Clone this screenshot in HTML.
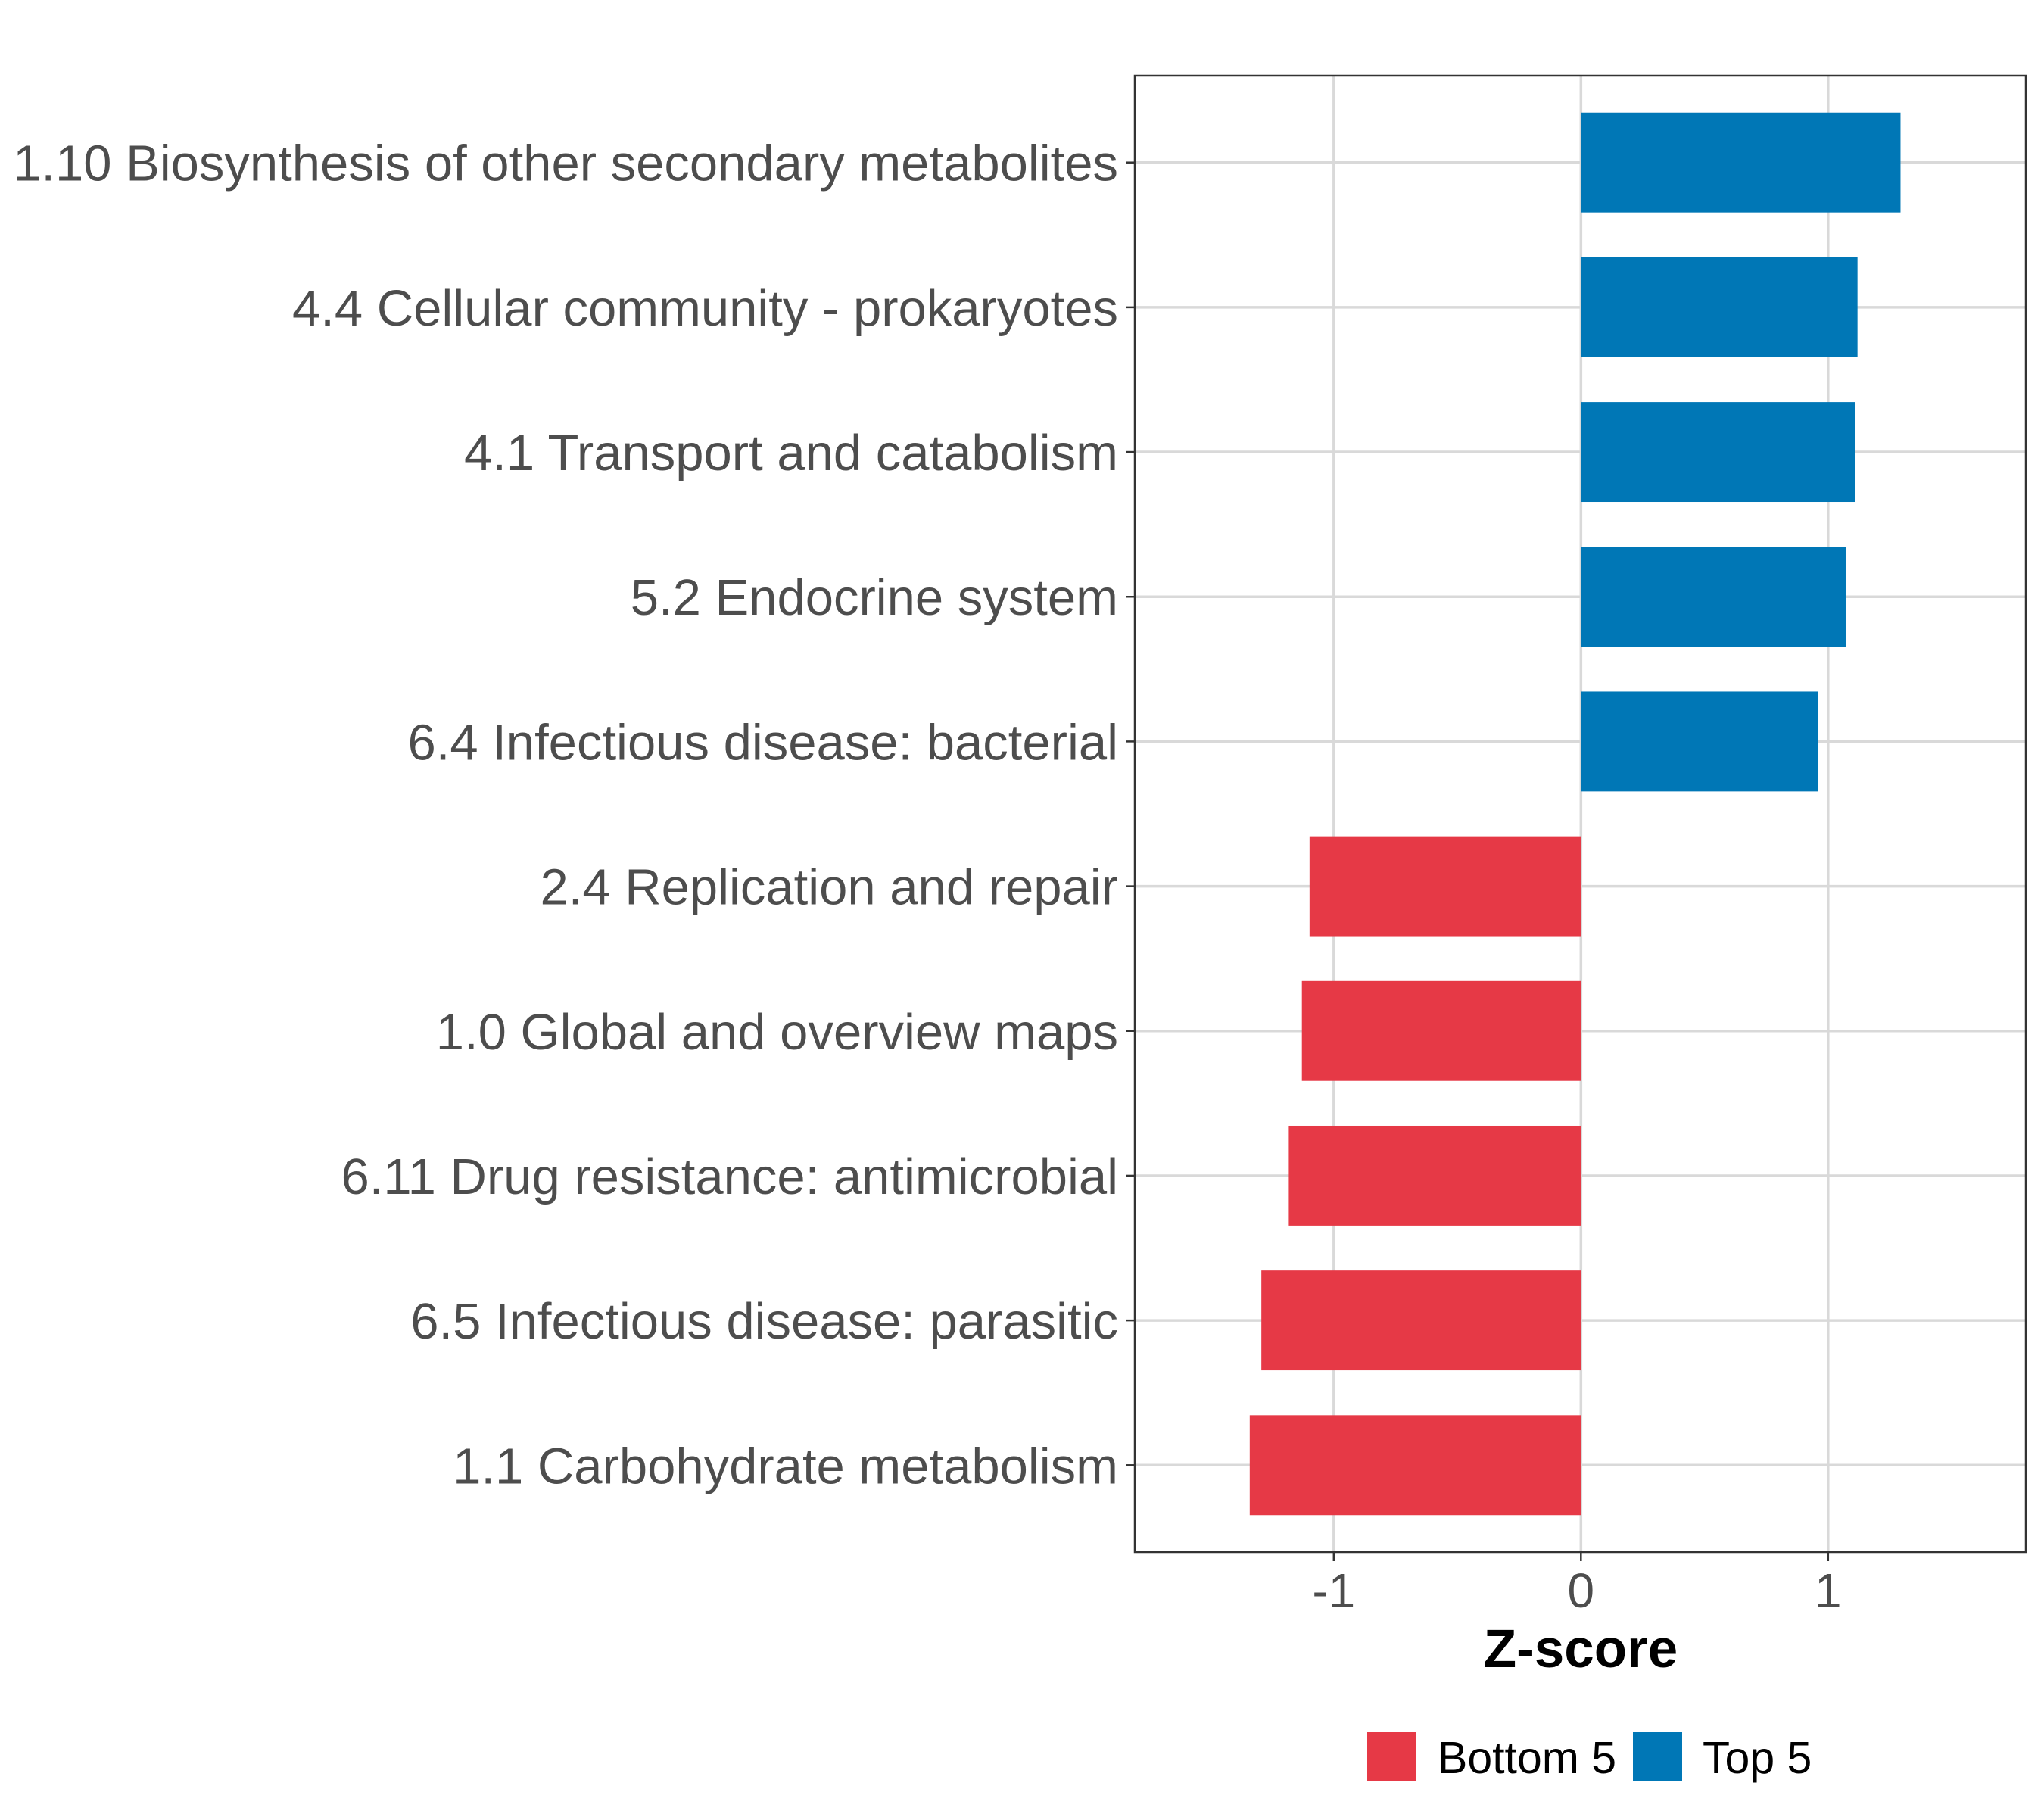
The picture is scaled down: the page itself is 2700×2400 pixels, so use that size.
<!DOCTYPE html>
<html><head><meta charset="utf-8"><style>html,body{margin:0;padding:0;background:#fff}svg{display:block}text{font-family:"Liberation Sans",sans-serif}</style></head>
<body>
<svg id="chart" xmlns="http://www.w3.org/2000/svg" width="2700" height="2400" viewBox="0 0 2700 2400">
<rect width="2700" height="2400" fill="#fff"/>
<g id="grid"></g>
<g id="bars"></g>
<rect x="1499" y="100" width="1177" height="1950" fill="none" stroke="#333" stroke-width="2.5"/>
<g id="yaxis"></g>
<g id="xaxis"></g>
<text x="2088" y="2202" font-size="71" font-weight="bold" text-anchor="middle" fill="#000">Z-score</text>
<g>
<rect x="1806" y="2288" width="65" height="65" fill="#E63946"/>
<text x="1899" y="2342" font-size="59" fill="#000">Bottom 5</text>
<rect x="2157" y="2288" width="65" height="65" fill="#0077B6"/>
<text x="2249" y="2342" font-size="59" fill="#000">Top 5</text>
</g>
</svg>
<script>
const categories = ["1.10 Biosynthesis of other secondary metabolites","4.4 Cellular community - prokaryotes","4.1 Transport and catabolism","5.2 Endocrine system","6.4 Infectious disease: bacterial","2.4 Replication and repair","1.0 Global and overview maps","6.11 Drug resistance: antimicrobial","6.5 Infectious disease: parasitic","1.1 Carbohydrate metabolism"];
const values = [1.293,1.119,1.108,1.071,0.96,-1.098,-1.129,-1.182,-1.293,-1.34];
const groups = ["Top 5","Top 5","Top 5","Top 5","Top 5","Bottom 5","Bottom 5","Bottom 5","Bottom 5","Bottom 5"];
const xTicks = [-1,0,1];
const xTickLabels = ["-1","0","1"];

const NS="http://www.w3.org/2000/svg";
const L=1499,R=2676,T=100,B=2050,xmin=-1.805,xmax=1.8;
const x=v=>L+(v-xmin)/(xmax-xmin)*(R-L);
const step=(B-T)/(categories.length+0.2);
const y=i=>T+step*0.6+i*step;
const bh=step*0.69;
function mk(tag,attrs,parent){const e=document.createElementNS(NS,tag);for(const k in attrs)e.setAttribute(k,attrs[k]);parent.appendChild(e);return e;}
const grid=document.getElementById('grid'),bars=document.getElementById('bars'),ya=document.getElementById('yaxis'),xa=document.getElementById('xaxis');
xTicks.forEach((t,i)=>{
  const g=mk('line',{x1:x(t),x2:x(t),y1:T,y2:B,stroke:'#d9d9d9','stroke-width':3.5},grid);
  
  
  const tk=mk('line',{x1:x(t),x2:x(t),y1:B,y2:B+12,stroke:'#333','stroke-width':2.5},xa);
  
  
  const tl=mk('text',{x:x(t),y:2123,'font-size':64,'text-anchor':'middle',fill:'#4d4d4d'},xa);
  tl.textContent=xTickLabels[i];
  
  
});
categories.forEach((c,i)=>{
  const cy=y(i);
  const g=mk('line',{x1:L,x2:R,y1:cy,y2:cy,stroke:'#d9d9d9','stroke-width':3.5},grid);
  
  
  const v=values[i];
  const b=mk('rect',{x:Math.min(x(0),x(v)),y:cy-bh/2,width:Math.abs(x(v)-x(0)),height:bh,fill:groups[i]==="Top 5"?'#0077B6':'#E63946'},bars);
  
  
  const tk=mk('line',{x1:L-12,x2:L,y1:cy,y2:cy,stroke:'#333','stroke-width':2.5},ya);
  
  
  const tl=mk('text',{x:1477,y:cy+24,'font-size':67,'text-anchor':'end',fill:'#4d4d4d'},ya);
  tl.textContent=c;
  
  
});
</script>
</body></html>
